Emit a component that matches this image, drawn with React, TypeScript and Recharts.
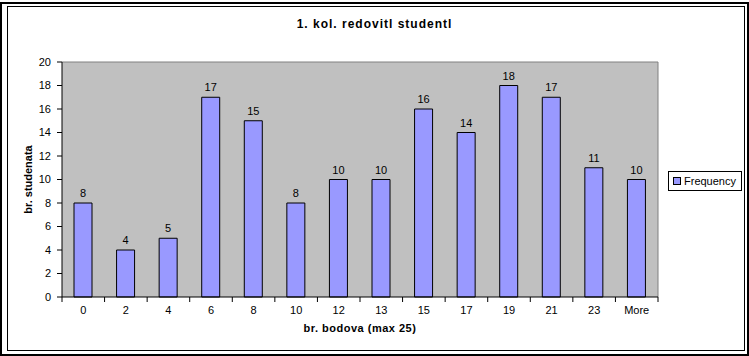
import { Bar, BarChart, CartesianGrid, Label, LabelList, Legend, XAxis, YAxis } from 'recharts';

const categories = ['0', '2', '4', '6', '8', '10', '12', '13', '15', '17', '19', '21', '23', 'More'];
const frequency = [8, 4, 5, 17, 15, 8, 10, 10, 16, 14, 18, 17, 11, 10];
const yTicks = [0, 2, 4, 6, 8, 10, 12, 14, 16, 18, 20];

const data = categories.map((bin, i) => ({ bin, Frequency: frequency[i] }));

const font = '"Liberation Sans", Arial, sans-serif';
const TICK_GAP = 9;

// Excel style: tick marks sit on the bin edges, labels in the middle
function BinTick({ x, y, payload, index, visibleTicksCount }: any) {
  const half = payload.offset || 0;
  const axisY = y - TICK_GAP;
  return (
    <g>
      <line x1={x - half} x2={x - half} y1={axisY} y2={axisY + 5} stroke="#000" />
      {index === visibleTicksCount - 1 && (
        <line x1={x + half} x2={x + half} y1={axisY} y2={axisY + 5} stroke="#000" />
      )}
      <text x={x} y={y} dy="0.71em" textAnchor="middle" style={{ fontSize: 11, fill: '#000', fontFamily: font }}>
        {payload.value}
      </text>
    </g>
  );
}

function LegendBox({ payload }: any) {
  return (
    <div
      style={{
        border: '1px solid #000',
        background: '#fff',
        padding: '2px 4px',
        fontSize: 11,
        fontFamily: font,
        display: 'flex',
        alignItems: 'center',
        width: 64,
        height: 14,
      }}
    >
      {(payload || []).map((p: any) => (
        <span key={p.value} style={{ display: 'flex', alignItems: 'center' }}>
          <span
            style={{
              display: 'inline-block',
              width: 6,
              height: 6,
              background: '#9999FF',
              border: '1px solid #000',
              marginRight: 3,
            }}
          />
          {p.value}
        </span>
      ))}
    </div>
  );
}

export default function App() {
  return (
    <div style={{ position: 'absolute', left: 0, top: 0, width: 749, height: 356, background: '#fff', fontFamily: font }}>
      <div style={{ position: 'absolute', left: 0, top: 2, width: 745, height: 350, border: '2px solid #000' }} />
      <div style={{ position: 'absolute', left: 7, top: 6, width: 736, height: 343, border: '1px solid #000' }} />
      <div
        style={{
          position: 'absolute',
          left: 0,
          width: 749,
          top: 17,
          textAlign: 'center',
          fontSize: 12,
          fontWeight: 'bold',
          letterSpacing: 1,
        }}
      >
        1. kol. redovitl studentl
      </div>
      <div style={{ position: 'absolute', left: 0, top: 0 }}>
        <BarChart width={749} height={356} data={data} margin={{ top: 62, right: 91, bottom: 37, left: 6 }} barSize={18}>
          <CartesianGrid
            fill="#C0C0C0"
            stroke="#808080"
            horizontalCoordinatesGenerator={({ offset }: any) => [offset.top]}
            verticalCoordinatesGenerator={({ offset }: any) => [offset.left + offset.width]}
          />
          <XAxis
            dataKey="bin"
            height={22}
            axisLine={{ stroke: '#000' }}
            tickLine={false}
            tickSize={0}
            tickMargin={TICK_GAP}
            interval={0}
            tick={<BinTick />}
          >
            <Label
              value="br. bodova (max 25)"
              position="bottom"
              offset={5}
              style={{ fontSize: 11, fontWeight: 'bold', fill: '#000', fontFamily: font, letterSpacing: 0.5 }}
            />
          </XAxis>
          <YAxis
            width={56}
            domain={[0, 20]}
            ticks={yTicks}
            interval={0}
            tickSize={5}
            tickMargin={6}
            axisLine={{ stroke: '#000' }}
            tickLine={{ stroke: '#000' }}
            tick={{ fontSize: 11, fill: '#000', fontFamily: font }}
          >
            <Label
              content={({ viewBox }: any) => {
                const x = viewBox.x + 22;
                const y = viewBox.y + viewBox.height / 2;
                return (
                  <text
                    x={x}
                    y={y}
                    transform={`rotate(-90, ${x}, ${y})`}
                    textAnchor="middle"
                    dominantBaseline="central"
                    style={{ fontSize: 11, fontWeight: 'bold', fill: '#000', fontFamily: font }}
                  >
                    br. studenata
                  </text>
                );
              }}
            />
          </YAxis>
          <Legend
            layout="horizontal"
            verticalAlign="middle"
            align="center"
            content={<LegendBox />}
            wrapperStyle={{ left: 668, top: 171, width: 74 }}
          />
          <Bar dataKey="Frequency" fill="#9999FF" stroke="#000" strokeWidth={1} isAnimationActive={false}>
            <LabelList dataKey="Frequency" position="top" offset={6} style={{ fontSize: 11, fill: '#000', fontFamily: font }} />
          </Bar>
        </BarChart>
      </div>
    </div>
  );
}
